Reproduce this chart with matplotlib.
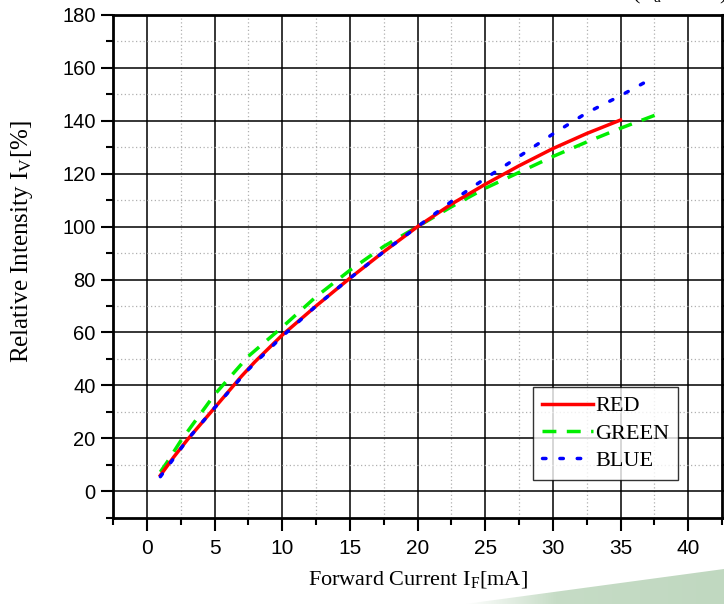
import numpy as np
import matplotlib
matplotlib.use("Agg")
import matplotlib.pyplot as plt
from matplotlib.patches import Polygon
from matplotlib.colors import LinearSegmentedColormap

# ---- data ----
red_x = [1, 2, 3, 4, 5, 6, 7, 8, 9, 10, 12.5, 15, 17.5, 20, 22.5, 25, 27.5, 30, 32.5, 35]
red_y = [6, 13, 19.5, 25.5, 31.5, 37.5, 43.5, 49, 54, 59, 70, 80.5, 90.5, 100, 108.5, 116, 123, 129.5, 135.2, 140.3]

green_x = [1, 1.5, 2, 2.5, 3.5, 5, 7.5, 10, 12.5, 15, 17.5, 20, 22.5, 25, 27.5, 30, 32.5, 35, 38]
green_y = [7.3, 11, 15, 19, 26, 36.5, 51, 62, 73.5, 83.5, 92.5, 100, 107.5, 114.5, 120.5, 126.5, 132, 137.2, 143]

blue_x = [1, 2, 3, 5, 7.5, 10, 12.5, 15, 17.5, 20, 22.5, 25, 27.5, 30, 32.5, 35, 37.5]
blue_y = [5.5, 12.5, 19.5, 31.5, 46, 58.5, 70, 80.5, 90.5, 100, 109.5, 118.2, 126.5, 135, 143, 149.5, 156.5]

series_labels = ["RED", "GREEN", "BLUE"]
x_ticks = [0, 5, 10, 15, 20, 25, 30, 35, 40]
y_ticks = [0, 20, 40, 60, 80, 100, 120, 140, 160, 180]

plt.rcParams['mathtext.fontset'] = 'custom'
plt.rcParams['mathtext.rm'] = 'Liberation Serif'
plt.rcParams['mathtext.it'] = 'Liberation Serif:italic'

W, H = 724, 604
fig = plt.figure(figsize=(W / 100, H / 100), dpi=100)

# decorative wedge (bottom right)
bg = fig.add_axes([0, 0, 1, 1], zorder=-5)
bg.set_xlim(0, W)
bg.set_ylim(H, 0)
bg.axis('off')
grad = np.linspace(0, 1, 256)[None, :]
cmap = LinearSegmentedColormap.from_list('g', [(0, '#ffffff'), (0.35, '#c6dcc6'), (1, '#c0d8c0')])
im = bg.imshow(grad, extent=[465, W, H, 560], cmap=cmap, aspect='auto')
poly = Polygon([[465, H], [W, 569], [W, H]], closed=True, transform=bg.transData,
               facecolor='none', edgecolor='none')
bg.add_patch(poly)
im.set_clip_path(poly)

ax = fig.add_axes([113 / W, 1 - 517.7 / H, (722 - 113) / W, (517.7 - 15) / H])

lg, = ax.plot(green_x, green_y, color='#00ee00', lw=2.5, linestyle=(0, (4, 3)), label=series_labels[1], zorder=3)
lr, = ax.plot(red_x, red_y, color='#ff0000', lw=2.5, linestyle='-', label=series_labels[0], zorder=4)
lb, = ax.plot(blue_x, blue_y, color='#0000ff', lw=2.5, linestyle=(0, (1, 4)), dash_capstyle='round', label=series_labels[2], zorder=5)

ax.set_xlim(-2.5, 42.5)
ax.set_ylim(-10, 180)
ax.set_xticks(x_ticks)
ax.set_yticks(y_ticks)
ax.set_xticks(np.arange(-2.5, 43, 5), minor=True)
ax.set_yticks(np.arange(-10, 181, 20), minor=True)

ax.grid(True, which='major', color='black', lw=1.1, linestyle='-')
ax.grid(True, which='minor', color='#b0b0b0', lw=0.9, linestyle=(0, (1, 2)))
ax.set_axisbelow(True)

for s in ax.spines.values():
    s.set_linewidth(2)
ax.tick_params(which='both', direction='out', width=1.5, top=False, right=True)
ax.tick_params(which='major', length=9)
ax.tick_params(which='minor', length=5)
ax.tick_params(axis='x', labelsize=15, pad=6)
ax.tick_params(axis='y', labelsize=14.5, pad=3.5)
for lab in ax.get_xticklabels() + ax.get_yticklabels():
    lab.set_fontfamily('Liberation Sans')

ax.set_xlabel(r'Forward Current I$_\mathregular{F}$[mA]', family='Liberation Serif', fontsize=16, labelpad=8)
ax.set_ylabel(r'Relative Intensity I$_\mathregular{V}$[%]', family='Liberation Serif', fontsize=18)
ax.yaxis.set_label_coords(-0.128, 0.55)

leg = ax.legend(handles=[lr, lg, lb], loc='upper right', bbox_to_anchor=(0.928, 0.26),
                prop={'family': 'Liberation Serif', 'size': 16},
                frameon=True, fancybox=False, handlelength=2.3, handletextpad=0.1, borderpad=0.4,
                labelspacing=0.3, borderaxespad=0)
leg.get_frame().set_edgecolor('black')
leg.get_frame().set_linewidth(1.0)

fig.text(632 / W, 1.0 + 1.0 / H, r'(T$_\mathregular{a}$=25°C)', family='Liberation Serif', fontsize=16,
         va='baseline', ha='left')

fig.savefig('out.png', dpi=100)
